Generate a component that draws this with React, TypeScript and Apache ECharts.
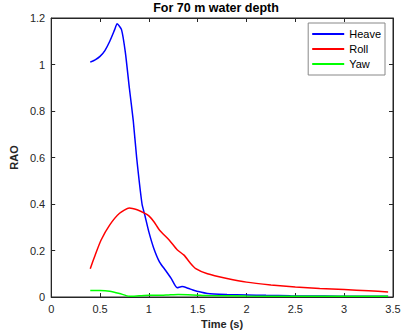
import React, { useEffect, useRef } from "react";
import * as echarts from "echarts";

const xTicks = [0, 0.5, 1, 1.5, 2, 2.5, 3, 3.5];
const heave: [number, number][] = [
  [0.4, 1.01], [0.45, 1.02], [0.5, 1.035], [0.55, 1.06], [0.6, 1.1], [0.65, 1.15], [0.675, 1.175],
  [0.72, 1.15], [0.76, 1.05], [0.8, 0.9], [0.84, 0.76], [0.875, 0.6], [0.93, 0.4], [0.96, 0.35],
  [1.0, 0.28], [1.05, 0.21], [1.11, 0.15], [1.17, 0.115], [1.23, 0.079], [1.29, 0.04],
  [1.34, 0.045], [1.4, 0.038], [1.45, 0.03], [1.5, 0.024], [1.6, 0.015], [1.8, 0.011],
  [2.0, 0.009], [2.2, 0.007], [2.45, 0.005], [2.8, 0.004], [3.1, 0.003], [3.45, 0.003],
];
const roll: [number, number][] = [
  [0.4, 0.122], [0.45, 0.18], [0.51, 0.244], [0.6, 0.31], [0.7, 0.36], [0.8, 0.383], [0.88, 0.375],
  [0.96, 0.36], [1.0, 0.349], [1.05, 0.325], [1.11, 0.287], [1.21, 0.244], [1.29, 0.203],
  [1.36, 0.18], [1.42, 0.148], [1.48, 0.122], [1.6, 0.1], [1.8, 0.08], [2.0, 0.064],
  [2.25, 0.052], [2.5, 0.043], [2.75, 0.037], [3.0, 0.032], [3.25, 0.027], [3.45, 0.022],
];
const yaw: [number, number][] = [
  [0.4, 0.028], [0.5, 0.028], [0.6, 0.025], [0.7, 0.015], [0.8, 0.003], [0.9, 0.005],
  [1.0, 0.007], [1.1, 0.007], [1.2, 0.009], [1.3, 0.011], [1.4, 0.01], [1.5, 0.008],
  [1.6, 0.006], [2.0, 0.004], [2.5, 0.003], [3.0, 0.003], [3.45, 0.003],
];

const font = "Liberation Sans, Arial, sans-serif";
const dark = "#262626";

export default function App() {
  const ref = useRef<HTMLDivElement>(null);
  useEffect(() => {
    const chart = echarts.init(ref.current!, undefined, { renderer: "svg" });
    const axisLine = { show: true, onZero: false, lineStyle: { color: dark, width: 1 } };
    const tick = { show: true, inside: true, length: 4, lineStyle: { color: dark } };
    chart.setOption({
      animation: false,
      backgroundColor: "#fff",
      title: {
        text: "For 70 m water depth",
        left: 216,
        textAlign: "center",
        top: 1,
        padding: 0,
        textStyle: { fontFamily: font, fontSize: 12.5, fontWeight: "bold", color: "#000" },
      },
      grid: { left: 39, right: 15, top: 18, bottom: 39, show: true, borderColor: dark, borderWidth: 1 },
      legend: {
        orient: "vertical",
        right: 23,
        top: 23,
        backgroundColor: "#fff",
        borderColor: "#888",
        borderWidth: 1,
        borderRadius: 0,
        padding: [5, 4, 5, 4],
        itemWidth: 32,
        itemHeight: 2,
        itemGap: 3,
        icon: "rect",
        textStyle: { fontFamily: font, fontSize: 11, color: "#000", lineHeight: 12 },
        data: ["Heave", "Roll", "Yaw"],
      },
      xAxis: [
        {
          type: "value", min: 0, max: 3.5, interval: 0.5,
          name: "Time (s)", nameLocation: "middle", nameGap: 21,
          nameTextStyle: { fontFamily: font, fontSize: 11, fontWeight: "bold", color: dark },
          axisLine, axisTick: tick, splitLine: { show: false },
          axisLabel: { fontFamily: font, fontSize: 11, color: dark, margin: 6 },
        },
        {
          type: "value", min: 0, max: 3.5, interval: 0.5, position: "top",
          axisLine, axisTick: tick, axisLabel: { show: false }, splitLine: { show: false },
        },
      ],
      yAxis: [
        {
          type: "value", min: 0, max: 1.2, interval: 0.2,
          name: "RAO", nameLocation: "middle", nameGap: 27,
          nameTextStyle: { fontFamily: font, fontSize: 11, fontWeight: "bold", color: dark },
          axisLine, axisTick: tick, splitLine: { show: false },
          axisLabel: {
            fontFamily: font, fontSize: 11, color: dark, margin: 6,
            formatter: (v: number) => String(Math.round(v * 10) / 10),
          },
        },
        {
          type: "value", min: 0, max: 1.2, interval: 0.2, position: "right",
          axisLine, axisTick: tick, axisLabel: { show: false }, splitLine: { show: false },
        },
      ],
      series: [
        { name: "Heave", type: "line", data: heave, showSymbol: false, smooth: 0.2, lineStyle: { color: "#0000ff", width: 1.5 }, itemStyle: { color: "#0000ff" } },
        { name: "Roll", type: "line", data: roll, showSymbol: false, smooth: 0.2, lineStyle: { color: "#ff0000", width: 1.5 }, itemStyle: { color: "#ff0000" } },
        { name: "Yaw", type: "line", data: yaw, showSymbol: false, smooth: 0.2, lineStyle: { color: "#00ff00", width: 1.5 }, itemStyle: { color: "#00ff00" } },
      ],
    });
    return () => chart.dispose();
  }, []);
  return <div ref={ref} style={{ width: 408, height: 336, position: "absolute", left: 0, top: 0 }} />;
}
